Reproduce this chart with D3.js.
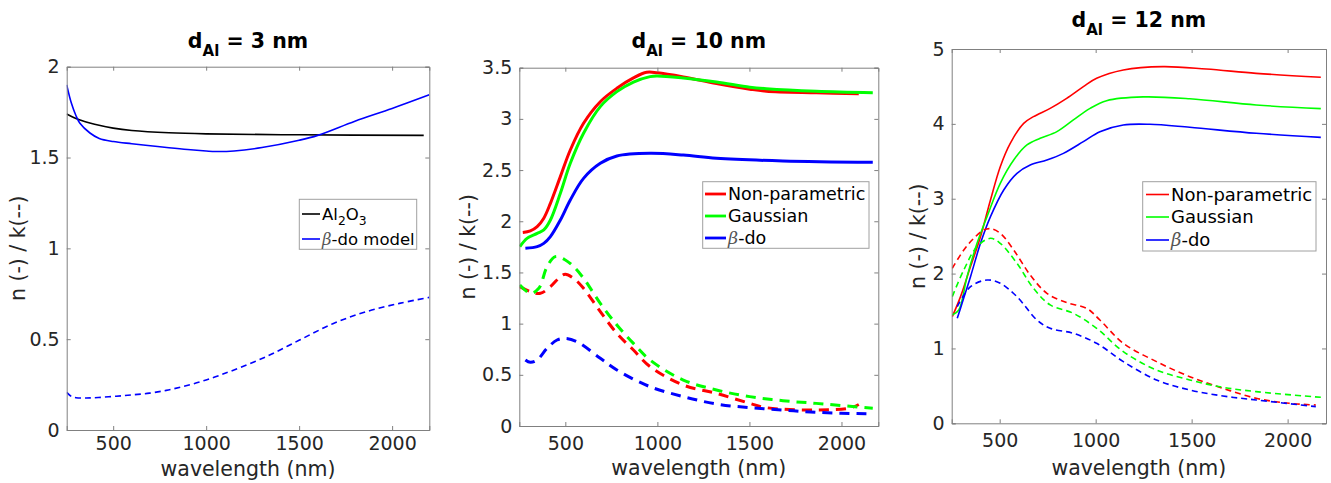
<!DOCTYPE html>
<html><head><meta charset="utf-8">
<script src="https://cdn.jsdelivr.net/npm/d3@7"></script>
<style>
html,body{margin:0;padding:0;background:#fff;}
svg{display:block;font-family:"DejaVu Sans",sans-serif;}
</style></head>
<body>
<svg id="chart" width="1331" height="483"></svg>
<script>
// ---------- DATA ----------
const xTicks = [500, 1000, 1500, 2000];
const yTicks1 = [0, 0.5, 1, 1.5, 2];
const yTicks2 = [0, 0.5, 1, 1.5, 2, 2.5, 3, 3.5];
const yTicks3 = [0, 1, 2, 3, 4, 5];
const titles = ["3", "10", "12"];

// Panel 1 (d_Al = 3 nm)
const p1_al2o3_n = [[250,1.74],[300,1.715],[350,1.697],[400,1.683],[500,1.662],[600,1.649],[800,1.636],[1000,1.63],[1500,1.625],[2170,1.622]];
const p1_bdo_n = [[250,1.9],[275,1.80],[300,1.73],[320,1.69],[375,1.635],[425,1.605],[500,1.588],[600,1.576],[700,1.565],[800,1.554],[900,1.544],[1000,1.536],[1050,1.533],[1150,1.536],[1300,1.555],[1500,1.595],[1600,1.622],[1800,1.70],[2000,1.77],[2200,1.845]];
const p1_bdo_k = [[250,0.207],[275,0.185],[300,0.178],[355,0.176],[420,0.179],[516,0.186],[600,0.193],[695,0.203],[785,0.218],[870,0.238],[964,0.264],[1050,0.293],[1143,0.328],[1323,0.404],[1502,0.495],[1681,0.585],[1860,0.651],[2039,0.697],[2200,0.73]];

// Panel 2 (d_Al = 10 nm)
const p2_np_n = [[269,1.89],[310,1.905],[347,1.947],[383,2.03],[419,2.175],[473,2.436],[527,2.696],[599,2.957],[690,3.168],[780,3.299],[870,3.40],[942,3.455],[1000,3.45],[1141,3.41],[1321,3.345],[1502,3.29],[1592,3.27],[1863,3.255],[2094,3.246]];
const p2_ga_n = [[253,1.752],[292,1.833],[347,1.882],[383,1.915],[419,2.012],[473,2.273],[527,2.566],[599,2.86],[690,3.12],[780,3.266],[870,3.36],[960,3.413],[996,3.42],[1141,3.40],[1321,3.36],[1502,3.31],[1592,3.295],[1863,3.27],[2170,3.256]];
const p2_bd_n = [[283,1.736],[347,1.752],[383,1.784],[419,1.85],[473,2.012],[527,2.208],[599,2.419],[690,2.566],[780,2.638],[960,2.664],[1141,2.647],[1321,2.615],[1682,2.589],[2170,2.576]];
const p2_np_k = [[253,1.361],[310,1.312],[365,1.296],[419,1.361],[473,1.459],[500,1.482],[545,1.443],[599,1.345],[690,1.117],[780,0.905],[870,0.742],[960,0.58],[1141,0.40],[1321,0.319],[1502,0.221],[1592,0.179],[1863,0.156],[2044,0.175],[2094,0.21]];
const p2_ga_k = [[253,1.377],[310,1.296],[356,1.345],[401,1.557],[446,1.654],[500,1.622],[545,1.557],[599,1.443],[690,1.198],[780,0.987],[870,0.807],[960,0.645],[1141,0.449],[1321,0.352],[1502,0.287],[1682,0.247],[1863,0.221],[2170,0.173]];
const p2_bd_k = [[283,0.645],[310,0.622],[347,0.645],[401,0.759],[455,0.84],[500,0.856],[563,0.824],[690,0.661],[780,0.547],[960,0.384],[1141,0.287],[1321,0.215],[1502,0.179],[1682,0.156],[1863,0.134],[2170,0.117]];

// Panel 3 (d_Al = 12 nm)
const p3_np_n = [[253,1.425],[296,1.692],[348,2.093],[400,2.493],[452,2.983],[503,3.428],[555,3.74],[625,4.007],[676,4.096],[763,4.207],[849,4.341],[936,4.497],[1005,4.608],[1144,4.72],[1351,4.765],[1576,4.733],[1836,4.675],[2173,4.622]];
const p3_ga_n = [[253,1.447],[287,1.514],[330,1.959],[382,2.404],[434,2.76],[503,3.206],[573,3.517],[642,3.718],[711,3.807],[798,3.896],[884,4.052],[971,4.207],[1057,4.31],[1247,4.36],[1490,4.336],[1836,4.252],[2173,4.203]];
const p3_bd_n = [[279,1.402],[304,1.603],[348,1.959],[400,2.404],[452,2.76],[521,3.117],[590,3.339],[659,3.45],[746,3.517],[832,3.606],[936,3.762],[1022,3.896],[1144,3.985],[1282,3.994],[1490,3.954],[1836,3.874],[2173,3.82]];
const p3_np_k = [[253,2.07],[313,2.315],[365,2.471],[417,2.582],[452,2.6],[503,2.538],[573,2.315],[659,1.981],[746,1.736],[849,1.612],[953,1.536],[1022,1.38],[1144,1.069],[1317,0.824],[1490,0.623],[1663,0.467],[1836,0.334],[2009,0.267],[2147,0.245]];
const p3_ga_k = [[253,1.692],[313,2.048],[382,2.36],[452,2.471],[503,2.404],[590,2.137],[676,1.803],[763,1.581],[884,1.469],[1005,1.269],[1144,0.957],[1317,0.712],[1490,0.579],[1663,0.481],[1836,0.423],[2173,0.347]];
const p3_bd_k = [[279,1.558],[348,1.825],[434,1.914],[503,1.87],[590,1.692],[694,1.38],[763,1.269],[884,1.202],[1005,1.069],[1144,0.824],[1317,0.579],[1490,0.445],[1663,0.365],[1836,0.312],[2147,0.223]];

const RED = "#ff0000", GREEN = "#00ff00", BLUE = "#0000ff", BLACK = "#000000";
const xDomain = [250, 2200];

// ---------- LAYOUT ----------
const panels = [
  { box:[66.7, 429.3, 66.7, 430], yDomain:[0,2], yTicks:yTicks1, title:titles[0], titleY:48, xLabelY:476, xPad:7, yLabelX:18, lw:1.6, dash:"6,4",
    series:[
      {d:p1_al2o3_n, c:BLACK, dashed:false},
      {d:p1_bdo_n, c:BLUE, dashed:false},
      {d:p1_bdo_k, c:BLUE, dashed:true}],
    legend:{box:[299.3, 199.3, 117.4, 50], rows:[214, 239], lineX:[302, 320], textX:322, fs:16.5,
      items:[{c:BLACK, t:"al2o3"},{c:BLUE, t:"beta", rest:"-do model"}]}},
  { box:[519.3, 878.3, 67.7, 426], yDomain:[0,3.5], yTicks:yTicks2, title:titles[1], titleY:48, xLabelY:475, xPad:11, yLabelX:468, lw:3, dash:"10,7",
    series:[
      {d:p2_np_k, c:RED, dashed:true},
      {d:p2_ga_k, c:GREEN, dashed:true},
      {d:p2_bd_k, c:BLUE, dashed:true},
      {d:p2_np_n, c:RED, dashed:false},
      {d:p2_ga_n, c:GREEN, dashed:false},
      {d:p2_bd_n, c:BLUE, dashed:false}],
    legend:{box:[702.7, 181.7, 166.3, 66.6], rows:[194, 216, 238], lineX:[705, 726], textX:728, fs:17.5,
      items:[{c:RED, t:"Non-parametric"},{c:GREEN, t:"Gaussian"},{c:BLUE, t:"beta", rest:"-do"}]}},
  { box:[951.7, 1326, 49, 423.3], yDomain:[0,5], yTicks:yTicks3, title:titles[2], titleY:27, xLabelY:475, xPad:10, yLabelX:918, lw:1.6, dash:"6,4",
    series:[
      {d:p3_np_n, c:RED, dashed:false},
      {d:p3_ga_n, c:GREEN, dashed:false},
      {d:p3_bd_n, c:BLUE, dashed:false},
      {d:p3_np_k, c:RED, dashed:true},
      {d:p3_ga_k, c:GREEN, dashed:true},
      {d:p3_bd_k, c:BLUE, dashed:true}],
    legend:{box:[1142.7, 181.7, 173.3, 69.3], rows:[194.5, 217, 240], lineX:[1146, 1169], textX:1171, fs:18,
      items:[{c:RED, t:"Non-parametric"},{c:GREEN, t:"Gaussian"},{c:BLUE, t:"beta", rest:"-do"}]}}
];

const svg = d3.select("#chart");
const TXT = "#262626", AX = "#808080";

panels.forEach(p => {
  const [x0, x1, y0, y1] = p.box;
  const x = d3.scaleLinear().domain(xDomain).range([x0, x1]);
  const y = d3.scaleLinear().domain(p.yDomain).range([y1, y0]);
  const g = svg.append("g");

  const cid = "clip" + Math.round(x0);
  g.append("clipPath").attr("id", cid).append("rect")
    .attr("x", x0).attr("y", y0).attr("width", x1 - x0).attr("height", y1 - y0);

  const line = d3.line().x(d => x(d[0])).y(d => y(d[1])).curve(d3.curveCatmullRom.alpha(0.5));
  const plot = g.append("g").attr("clip-path", `url(#${cid})`);
  p.series.forEach(s => {
    plot.append("path").datum(s.d).attr("d", line)
      .attr("fill", "none").attr("stroke", s.c).attr("stroke-width", p.lw)
      .attr("stroke-dasharray", s.dashed ? p.dash : null)
      .attr("stroke-linejoin", "round");
  });

  const tl = 4;
  const ab = g.append("g").attr("transform", `translate(0,${y1})`)
    .call(d3.axisBottom(x).tickValues(xTicks).tickSize(-tl).tickPadding(p.xPad).tickFormat(d3.format("d")));
  const at = g.append("g").attr("transform", `translate(0,${y0})`)
    .call(d3.axisTop(x).tickValues(xTicks).tickSize(-tl).tickFormat(""));
  const al = g.append("g").attr("transform", `translate(${x0},0)`)
    .call(d3.axisLeft(y).tickValues(p.yTicks).tickSize(-tl).tickPadding(7).tickFormat(d => String(d)));
  const ar = g.append("g").attr("transform", `translate(${x1},0)`)
    .call(d3.axisRight(y).tickValues(p.yTicks).tickSize(-tl).tickFormat(""));
  [ab, at, al, ar].forEach(a => {
    a.select(".domain").attr("stroke", AX).attr("stroke-width", 1);
    a.selectAll(".tick line").attr("stroke", AX);
    a.selectAll("text").attr("fill", TXT).attr("font-size", 19).attr("font-family", "DejaVu Sans");
  });

  const cx = (x0 + x1) / 2;
  const t = g.append("text").attr("x", cx).attr("y", p.titleY).attr("text-anchor", "middle")
    .attr("font-weight", "bold").attr("font-size", 20.5).attr("fill", "#000");
  t.append("tspan").text("d");
  t.append("tspan").attr("font-size", 15).attr("dy", 8).text("Al");
  t.append("tspan").attr("dy", -8).text(" = " + p.title + " nm");

  g.append("text").attr("x", cx).attr("y", p.xLabelY).attr("text-anchor", "middle")
    .attr("font-size", 20.5).attr("fill", TXT).text("wavelength (nm)");
  g.append("text").attr("transform", `translate(${p.yLabelX + 7},${(y0 + y1) / 2}) rotate(-90)`)
    .attr("text-anchor", "middle").attr("font-size", 20.5).attr("fill", TXT).text("n (-) / k(--)");

  const L = p.legend;
  g.append("rect").attr("x", L.box[0]).attr("y", L.box[1]).attr("width", L.box[2]).attr("height", L.box[3])
    .attr("fill", "#fff").attr("stroke", "#a0a0a0").attr("stroke-width", 1);
  L.items.forEach((it, i) => {
    const ry = L.rows[i];
    g.append("line").attr("x1", L.lineX[0]).attr("x2", L.lineX[1]).attr("y1", ry).attr("y2", ry)
      .attr("stroke", it.c).attr("stroke-width", p.lw === 3 ? 2.8 : 1.6);
    const tx = g.append("text").attr("x", L.textX).attr("y", ry + 6).attr("font-size", L.fs).attr("fill", "#000");
    if (it.t === "al2o3") {
      tx.append("tspan").text("Al");
      tx.append("tspan").attr("font-size", L.fs * 0.75).attr("dy", 5).text("2");
      tx.append("tspan").attr("dy", -5).text("O");
      tx.append("tspan").attr("font-size", L.fs * 0.75).attr("dy", 5).text("3");
    } else if (it.t === "beta") {
      tx.append("tspan").attr("font-family", "DejaVu Serif").attr("font-style", "italic").attr("fill", "#555").text("β");
      tx.append("tspan").text(it.rest);
    } else {
      tx.text(it.t);
    }
  });
});
</script>
</body></html>
